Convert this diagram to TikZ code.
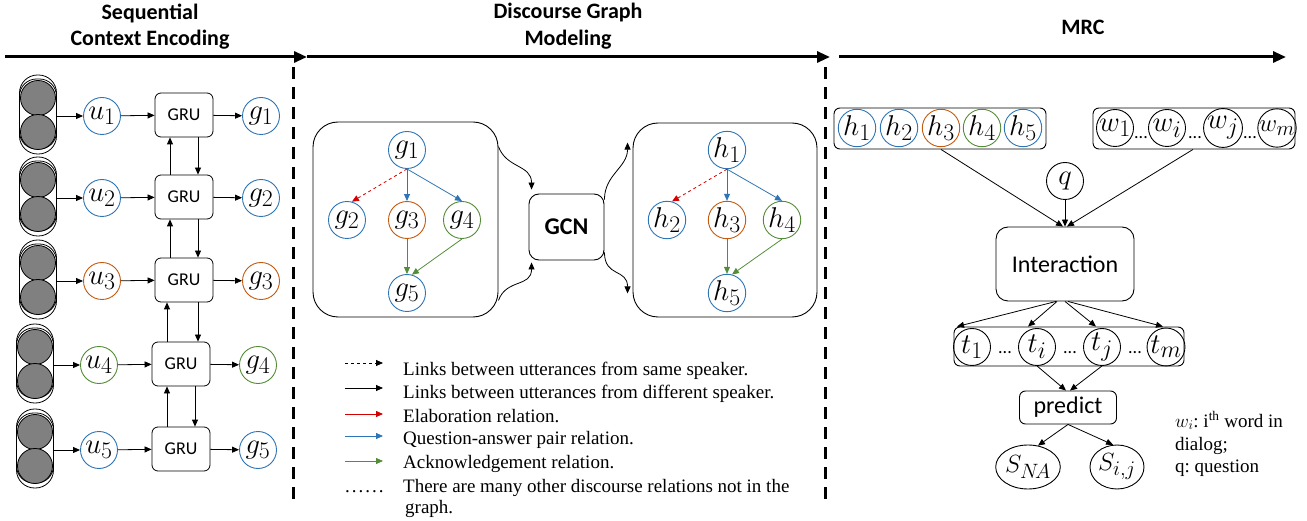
\RequirePackage{fix-cm}
\documentclass[tikz,border=0pt]{standalone}
\usepackage{graphicx}
\usepackage{fontspec}
\setmainfont{Liberation Serif}
\newfontfamily\calfont{Carlito}
\usetikzlibrary{arrows.meta,calc,shapes.geometric}
\newcommand\mfs{\fontsize{24.88}{28}\selectfont}
\newcommand\mt[1]{\scalebox{1.15}{$#1$}}
\definecolor{cblue}{RGB}{46,117,182}
\definecolor{corange}{RGB}{197,90,17}
\definecolor{cgreen}{RGB}{84,140,55}
\definecolor{cred}{RGB}{210,0,0}
\definecolor{cgray}{RGB}{128,128,128}
\tikzset{
  arr/.style={-{Triangle[length=7pt,width=6pt]},line width=0.8pt},
  bigarr/.style={-{Triangle[length=13pt,width=11pt]},line width=3pt},
  vdash/.style={line width=3pt,dash pattern=on 12pt off 8pt},
  mc/.style={circle,draw=#1,line width=0.9pt,minimum size=37pt,inner sep=0pt,font=\mfs},
  gru/.style={draw,rounded corners=6pt,line width=0.8pt,minimum width=58pt,minimum height=44pt,font=\calfont\fontsize{18}{20}\selectfont},
  cyl/.style={draw,line width=0.8pt,rounded corners=18pt,minimum width=37pt,inner sep=0pt},
  gc/.style={circle,draw,fill=cgray,line width=0.8pt,minimum size=35pt,inner sep=0pt},
  ttl/.style={font=\calfont\bfseries\fontsize{22}{24}\selectfont},
  leg/.style={anchor=base west,font=\fontsize{19}{22}\selectfont,inner sep=0pt},
  rbx/.style={draw,line width=0.9pt,rounded corners=6pt},
  dts/.style={font=\calfont\fontsize{18}{20}\selectfont,inner sep=0pt},
  ell/.style={ellipse,draw,line width=0.9pt,minimum width=54pt,minimum height=44pt,inner sep=0pt,font=\mfs},
}
\frenchspacing
\begin{document}
\begin{tikzpicture}[x=1pt,y=-1pt]
\useasboundingbox (0,0) rectangle (1307,521);
% titles
\node[ttl] (t1a) at (150,13) {Sequential};
\node[ttl] (t1b) at (150,40) {Context Encoding};
\node[ttl] (t2a) at (568,13) {Discourse Graph};
\node[ttl] (t2b) at (568,40) {Modeling};
\node[ttl] (t3) at (1083,27) {MRC};
\coordinate (a0) at (5,57);
\coordinate (a1) at (307,57);
\coordinate (a2) at (830,57);
\coordinate (a3) at (839,57);
\coordinate (a4) at (1286,57);
\draw[bigarr] (a0) -- (a1);
\draw[bigarr] (a1) -- (a2);
\draw[bigarr] (a3) -- (a4);
\coordinate (d1a) at (293,67); \coordinate (d1b) at (293,505);
\coordinate (d2a) at (825,67); \coordinate (d2b) at (825,505);
\draw[vdash] (d1a) -- (d1b);
\draw[vdash] (d2a) -- (d2b);
% sequential encoding
\foreach \i/\y/\c/\s in {1/116/cblue/0,2/198/cblue/0,3/281/corange/0,4/365/cgreen/-3,5/450/cblue/-3}{
  \node[cyl,minimum height=79pt] (cy\i) at (38+\s,\y-1.5) {};
  \node[cyl,minimum height=70pt,rounded corners=17pt] (cyi\i) at (38+\s,\y-2) {};
  \node[gc] (ga\i) at (38+\s,\y-18) {};
  \node[gc] (gb\i) at (38+\s,\y+16) {};
  \node[mc=\c] (u\i) at (102+\s,\y) {\mt{u_\i}};
  \node[gru] (gru\i) at (184+\s,\y-1) {GRU};
  \node[mc=\c] (g\i) at (261+\s,\y) {\mt{g_\i}};
  \draw[arr] (cy\i.east |- u\i) -- (u\i);
  \draw[arr] (u\i) -- (gru\i);
  \draw[arr] (gru\i) -- (g\i);
}
\foreach \a/\b in {2/1,3/2,4/3,5/4}{
  \draw[arr] ([xshift=-14pt]gru\a.north) -- ([xshift=-14pt]gru\a.north |- gru\b.south);
  \draw[arr] ([xshift=14pt]gru\b.south) -- ([xshift=14pt]gru\b.south |- gru\a.north);
}
% discourse graph
\node[draw,line width=0.9pt,rounded corners=25pt,minimum width=185pt,minimum height=195pt] (lbox) at (405.5,219.5) {};
\node[mc=cblue] (m1) at (407,150) {\mt{g_1}};
\node[mc=cblue] (m2) at (347,220) {\mt{g_2}};
\node[mc=corange] (m3) at (407,220) {\mt{g_3}};
\node[mc=cgreen] (m4) at (462,220) {\mt{g_4}};
\node[mc=cblue] (m5) at (407,293) {\mt{g_5}};
\draw[arr,cred,dashed] (m1.south) -- (m2.75);
\draw[arr,cblue] (m1.south) -- (m3);
\draw[arr,cblue] (m1.south) -- (m4.north);
\draw[arr,cgreen] (m3) -- (m5);
\draw[arr,cgreen] (m4.south) -- (m5.75);
\node[draw,line width=0.9pt,rounded corners=25pt,minimum width=184pt,minimum height=194pt] (rbox) at (725,220) {};
\node[mc=cblue] (n1) at (727,150) {\mt{h_1}};
\node[mc=cblue] (n2) at (667,220) {\mt{h_2}};
\node[mc=corange] (n3) at (727,220) {\mt{h_3}};
\node[mc=cgreen] (n4) at (782,220) {\mt{h_4}};
\node[mc=cblue] (n5) at (727,293) {\mt{h_5}};
\draw[arr,cred,dashed] (n1.south) -- (n2.75);
\draw[arr,cblue] (n1.south) -- (n3);
\draw[arr,cblue] (n1.south) -- (n4.north);
\draw[arr,cgreen] (n3) -- (n5);
\draw[arr,cgreen] (n4.south) -- (n5.75);
\node[draw,line width=0.9pt,rounded corners=10pt,minimum width=75pt,minimum height=66pt,font=\calfont\bfseries\fontsize{24}{26}\selectfont] (gcn) at (566.5,227) {GCN};
\draw[arr] ($(lbox.north east)+(0,25)$) .. controls +(8,22) and +(0,-25) .. ($(gcn.north west)+(3,-4)$);
\draw[arr] ($(lbox.south east)+(0,-17)$) .. controls +(8,-22) and +(0,25) .. ($(gcn.south west)+(3,2)$);
\draw[arr] ($(gcn.north east)+(0,6)$) .. controls +(0,-25) and +(0,25) .. ($(rbox.north west)+(-5,20)$);
\draw[arr] ($(gcn.south east)+(0,-8)$) .. controls +(0,25) and +(0,-25) .. ($(rbox.south west)+(-5,-24)$);
% legend
\coordinate (ls1) at (345,363); \coordinate (le1) at (383,363);
\coordinate (ls2) at (345,388); \coordinate (le2) at (383,388);
\coordinate (ls3) at (345,414); \coordinate (le3) at (383,414);
\coordinate (ls4) at (345,436); \coordinate (le4) at (383,436);
\coordinate (ls5) at (345,461); \coordinate (le5) at (383,461);
\draw[arr,dashed] (ls1) -- (le1);
\draw[arr] (ls2) -- (le2);
\draw[arr,cred] (ls3) -- (le3);
\draw[arr,cblue] (ls4) -- (le4);
\draw[arr,cgreen] (ls5) -- (le5);
\node[leg] (lt1) at (403,375) {Links between utterances from same speaker.};
\node[leg] (lt2) at (403,398) {Links between utterances from different speaker.};
\node[leg] (lt3) at (403,422) {Elaboration relation.};
\node[leg] (lt4) at (403,444) {Question-answer pair relation.};
\node[leg] (lt5) at (403,468) {Acknowledgement relation.};
\node[leg] (ld) at (345,492) {.\kern2pt.\kern2pt.\kern2pt.\kern2pt.\kern2pt.};
\node[leg] (lt6) at (403,492) {There are many other discourse relations not in the};
\node[leg] (lt7) at (405,513) {graph.};
% MRC
\node[rbx,minimum width=212pt,minimum height=41pt] (hbox) at (940,128.5) {};
\foreach \i/\x/\c in {1/857/cblue,2/899/cblue,3/941/corange,4/982/cgreen,5/1023/cblue}
  \node[mc=\c] (hh\i) at (\x,128) {\mt{h_\i}};
\node[rbx,minimum width=202pt,minimum height=41pt] (wbox) at (1194,128.5) {};
\node[mc=black] (ww1) at (1115,128) {\mt{w_1}};
\node[mc=black] (wwi) at (1167,128) {\mt{w_i}};
\node[mc=black] (wwj) at (1223,128) {\mt{w_j}};
\node[mc=black] (wwm) at (1277,128) {$w_m$};
\node[dts] (wd1) at (1141,138) {...};
\node[dts] (wd2) at (1195,138) {...};
\node[dts] (wd3) at (1250,138) {...};
\node[mc=black] (q) at (1065,181) {\mt{q}};
\node[rbx,rounded corners=12pt,minimum width=138pt,minimum height=74pt,font=\calfont\fontsize{24}{26}\selectfont] (int) at (1065,264) {Interaction};
\draw[arr] ([xshift=1pt]hbox.south) -- ([xshift=-2pt]int.north);
\draw[arr] (q) -- (int);
\draw[arr] ([xshift=-1pt]wbox.south) -- ([xshift=2pt]int.north);
\node[rbx,minimum width=230pt,minimum height=39pt] (tbox) at (1069,346.5) {};
\node[mc=black] (tt1) at (972,347) {\mt{t_1}};
\node[mc=black] (tti) at (1037,347) {\mt{t_i}};
\node[mc=black] (ttj) at (1102,347) {\mt{t_j}};
\node[mc=black] (ttm) at (1166,347) {\mt{t_m}};
\node[dts] (td1) at (1005,353) {...};
\node[dts] (td2) at (1070,353) {...};
\node[dts] (td3) at (1135,353) {...};
\draw[arr] ([xshift=-9pt]int.south) -- ([xshift=-112pt]tbox.north);
\draw[arr] ([xshift=-8pt]int.south) -- ([xshift=-41pt]tbox.north);
\draw[arr] ([xshift=0pt]int.south) -- ([xshift=27pt]tbox.north);
\draw[arr] ([xshift=3pt]int.south) -- ([xshift=94pt]tbox.north);
\node[rbx,minimum width=97pt,minimum height=33pt,font=\calfont\fontsize{24}{26}\selectfont] (pred) at (1068,407.5) {predict};
\draw[arr] (tti.south) -- ([xshift=-2pt]pred.north);
\draw[arr] (ttj.south) -- ([xshift=2pt]pred.north);
\node[ell] (sna) at (1028,467) {$S_{N\!A}$};
\node[ell] (sij) at (1117,467) {$S_{i,j}$};
\draw[arr] (pred.south) -- (sna.65);
\draw[arr] (pred.south) -- (sij.100);
\node[leg] (an1) at (1175,427) {$w_i$: i\textsuperscript{th} word in};
\node[leg] (an2) at (1175,450) {dialog;};
\node[leg] (an3) at (1175,472) {q: question};
\end{tikzpicture}
\end{document}
